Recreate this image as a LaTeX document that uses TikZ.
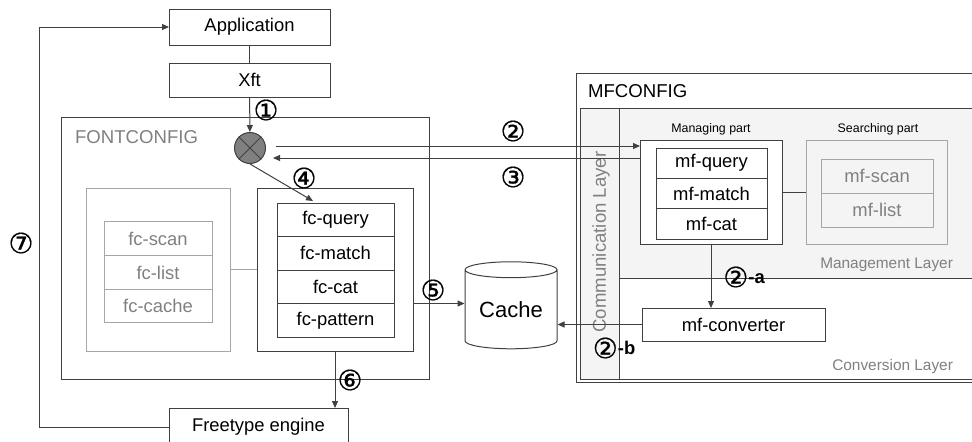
\documentclass[tikz,border=0pt]{standalone}
\usepackage{fontspec}
\setmainfont{Liberation Sans}
\newfontfamily\numfont[FakeBold=0.4]{DejaVu Sans}
\usetikzlibrary{positioning,shapes.geometric,arrows.meta}
\definecolor{linegray}{HTML}{404040}
\definecolor{softgray}{HTML}{A6A6A6}
\definecolor{textgray}{HTML}{808080}
\definecolor{layerfill}{HTML}{F4F4F4}
\tikzset{
	box/.style={draw=linegray, line width=0.5pt, outer sep=0pt, inner sep=0pt, font=\fontsize{9.2}{11}\selectfont},
	graybox/.style={box, draw=softgray, text=textgray},
	arr/.style={draw=linegray, line width=0.5pt, -{Triangle[length=3.5pt,width=3pt]}},
	num/.style={font=\numfont\fontsize{14}{14}\selectfont},
	layertxt/.style={text=textgray, font=\fontsize{7.7}{9}\selectfont, anchor=east},
}

\begin{document}
\begin{tikzpicture}[x=0.5pt,y=-0.5pt]
	\useasboundingbox (0,0) rectangle (972,441);
	\clip (0,0) rectangle (972,441);

	\node[box, minimum width=80.5pt, minimum height=18pt] (app) at (249.5,27) {Application};
	\node[box, minimum width=80.5pt, minimum height=17pt] (xft) at (249.5,80) {Xft};
	\draw[linegray, line width=0.5pt] (app) -- (xft);

	\node[box, minimum width=184pt, minimum height=131pt] (fontcfg) at (245,248) {};
	\node[anchor=west, text=textgray, font=\fontsize{9.3}{11}\selectfont] (fontcfgtxt) at (68,137) {FONTCONFIG};

	\node[circle, draw=linegray, fill=textgray, line width=0.5pt, minimum size=15.5pt, inner sep=0pt] (mix) at (250,148) {};
	\draw[linegray, line width=0.5pt] (mix.45) -- (mix.225) (mix.135) -- (mix.315);

	\node[graybox, minimum width=72pt, minimum height=81.5pt] (fcside) at (158,269.5) {};
	\node[graybox, minimum width=54pt, minimum height=16.83pt] (fcscan) at (158,238.8) {fc-scan};
	\node[graybox, minimum width=54pt, minimum height=16.83pt, below=0pt of fcscan] (fclist) {fc-list};
	\node[graybox, minimum width=54pt, minimum height=16.83pt, below=0pt of fclist] (fccache) {fc-cache};

	\node[box, minimum width=78pt, minimum height=81.5pt] (fcmain) at (335,269.5) {};
	\node[box, minimum width=58.5pt, minimum height=16.75pt] (fcquery) at (335.5,219.75) {fc-query};
	\node[box, minimum width=58.5pt, minimum height=16.75pt, below=0pt of fcquery] (fcmatch) {fc-match};
	\node[box, minimum width=58.5pt, minimum height=16.75pt, below=0pt of fcmatch] (fccat) {fc-cat};
	\node[box, minimum width=58.5pt, minimum height=16.75pt, below=0pt of fccat] (fcpattern) {fc-pattern};
	\draw[softgray, line width=0.5pt] (fcside) -- (fcmain);

	\node[draw=linegray, line width=0.5pt, cylinder, shape border rotate=90, aspect=0.25, minimum width=46pt, minimum height=43.5pt, inner sep=0pt, font=\fontsize{11}{13}\selectfont] (cache) at (511,309.5) {Cache};

	\node[box, minimum width=89.5pt, minimum height=19pt] (ft) at (258.5,427) {Freetype engine};

	\draw[box, fill=white] (576,73) rectangle (990,382);
	\node[anchor=west, font=\fontsize{9.3}{11}\selectfont] (mfcfgtxt) at (581,91) {MFCONFIG};
	\draw[box, fill=white] (580,108) rectangle (990,379);
	\draw[box, fill=layerfill] (619,108) rectangle (990,278);
	\draw[box, fill=layerfill] (580,108) rectangle (619,379);
	\node[rotate=90, text=textgray, font=\fontsize{9.3}{11}\selectfont] (commtxt) at (601,242) {Communication Layer};
	\node[layertxt] (mgmttxt) at (960,265) {Management Layer};
	\node[layertxt] (convtxt) at (960,367) {Conversion Layer};

	\node[box, fill=white, minimum width=71pt, minimum height=52pt] (mgr) at (711,192) {};
	\node[font=\fontsize{6.2}{8}\selectfont] (mgrtxt) at (711,129) {Managing part};
	\node[box, minimum width=55.5pt, minimum height=15.17pt] (mfquery) at (711.5,163.2) {mf-query};
	\node[box, minimum width=55.5pt, minimum height=15.17pt, below=0pt of mfquery] (mfmatch) {mf-match};
	\node[box, minimum width=55.5pt, minimum height=15.17pt, below=0pt of mfmatch] (mfcat) {mf-cat};

	\node[graybox, minimum width=70.5pt, minimum height=52pt] (srch) at (876.5,192) {};
	\node[font=\fontsize{6.2}{8}\selectfont] (srchtxt) at (878,129) {Searching part};
	\node[graybox, minimum width=56pt, minimum height=17pt] (mfscan) at (877,176) {mf-scan};
	\node[graybox, minimum width=56pt, minimum height=17pt, below=0pt of mfscan] (mflist) {mf-list};
	\draw[linegray, line width=0.5pt] (mgr) -- (srch);

	\node[box, fill=white, minimum width=91.5pt, minimum height=16.5pt] (mfconv) at (733.5,324.5) {mf-converter};

	\coordinate (p2) at (276,146);
	\coordinate (p3) at (273,158);
	\coordinate (p4) at (313,201);
	\coordinate (loopx) at (39,0);

	\draw[arr] (xft) -- (mix);
	\draw[arr] (p2) -- (p2 -| mgr.west);
	\draw[arr] (mgr.west |- p3) -- (p3);
	\draw[arr] (mix.south) -- (p4);
	\draw[arr] (fcmain.east |- fcpattern.north) -- (cache.west |- fcpattern.north);
	\draw[arr] (fcmain.south) -- (fcmain.south |- ft.north);
	\draw[arr] (ft.west) -- (ft.west -| loopx) |- (app.west);
	\draw[arr] (mgr.south) -- (mgr.south |- mfconv.north);
	\draw[arr] (mfconv.west) -- (cache.east |- mfconv.west);

	\node[num] (n1) at (266,110) {①};
	\node[num] (n2) at (513,131) {②};
	\node[num] (n3) at (513,177) {③};
	\node[num] (n4) at (304,178) {④};
	\node[num] (n5) at (433,290) {⑤};
	\node[num] (n6) at (350,380) {⑥};
	\node[num] (n7) at (21,243) {⑦};
	\node[inner sep=0pt] (n2a) at (744,277) {{\numfont\fontsize{14}{14}\selectfont ②}{\fontsize{9.2}{11}\selectfont\bfseries\raisebox{2pt}{-a}}};
	\node[inner sep=0pt] (n2b) at (614,348) {{\numfont\fontsize{14}{14}\selectfont ②}{\fontsize{9.2}{11}\selectfont\bfseries\raisebox{2pt}{-b}}};
\end{tikzpicture}
\end{document}
